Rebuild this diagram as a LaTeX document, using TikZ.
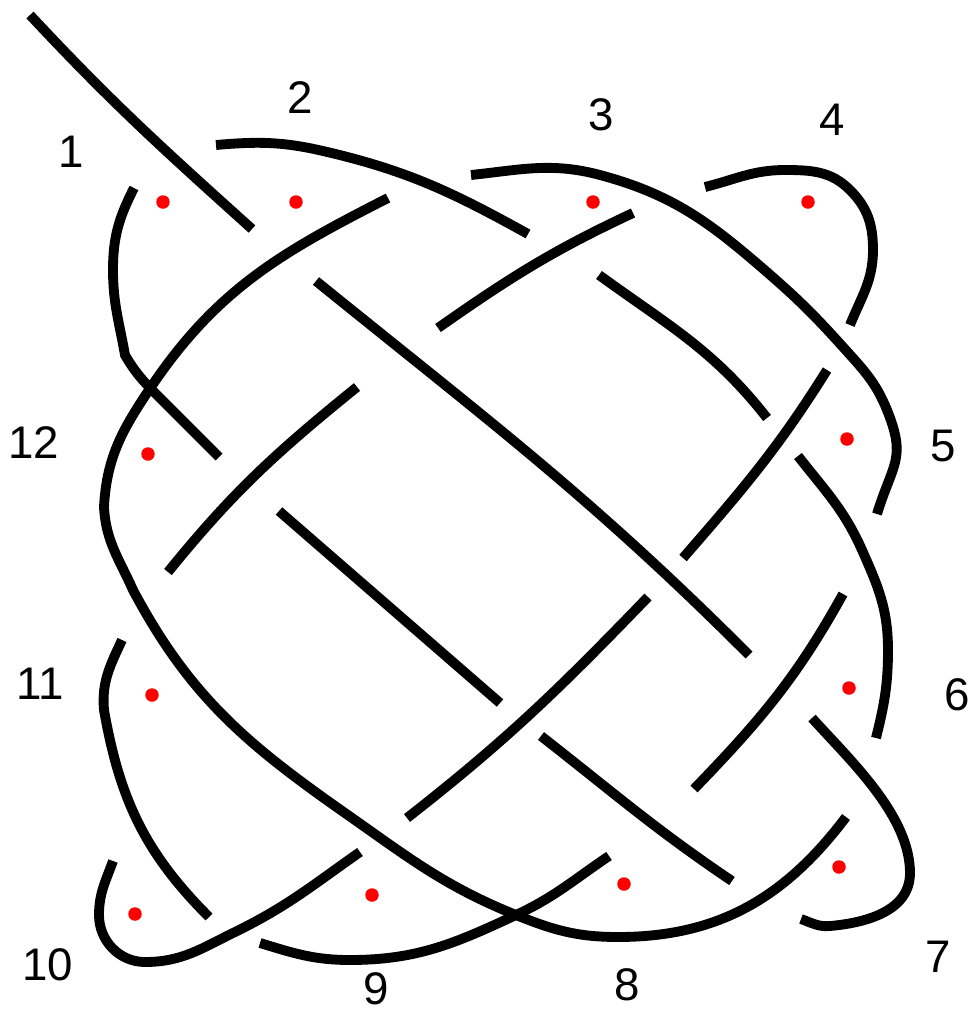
\documentclass[tikz,border=0pt]{standalone}
\usepackage{fontspec}
\setmainfont{Liberation Sans}
\usetikzlibrary{positioning,calc}

\begin{document}
\begin{tikzpicture}[
    x=0.02cm, y=-0.02cm,
    strand/.style={line width=5.6pt, black},
    reddot/.style={circle, fill=red, minimum size=0.27cm, inner sep=0pt},
    num/.style={font=\fontsize{26}{26}\selectfont, inner sep=0pt}
]
    \useasboundingbox (0,0) rectangle (973,1012);
    % strands of the knot
    \draw[strand] (30,15) to[out=-47,in=138] (252,229);
    \draw[strand] (216,145) to[out=5,in=167] (323,151) to[out=-13,in=151] (528,234);
    \draw[strand] (471,175) to[out=6,in=165] (600,175) to[out=-15,in=139] (768,273) to[out=-41,in=132] (843,347) to[out=-48,in=112] (887,410) to[out=-68,in=73,looseness=1.3] (877,514);
    \draw[strand] (705,187) to[out=14,in=180] (785,170) to[out=0,in=135] (850,190) to[out=-45,in=90] (873,250) to[out=270,in=68] (850,325);
    \draw[strand] (134,188) to[out=243,in=90] (113,270) to[out=270,in=100] (125,355) to[out=-60,in=135] (160,398) to[out=-45,in=135] (219,457);
    \draw[strand] (388,198) to[out=207,in=56] (151,387) to[out=236,in=87] (104,507) to[out=273,in=114] (133,590) to[out=-62,in=145] (345,813) to[out=-35,in=158] (516,915) to[out=-22,in=180] (618,937) to[out=0,in=233] (846,817);
    \draw[strand] (316,281) to[out=-39,in=135] (749,655);
    \draw[strand] (633,213) to[out=205,in=35] (438,328);
    \draw[strand] (599,275) to[out=-36,in=128] (767,418);
    \draw[strand] (357,387) to[out=219,in=51] (168,572);
    \draw[strand] (827,370) to[out=238,in=49] (683,558);
    \draw[strand] (798,456) to[out=-52,in=114] (862,550) to[out=-66,in=90] (888,650) to[out=270,in=76] (876,738);
    \draw[strand] (279,511) -- (500,703);
    \draw[strand] (648,597) to[out=226,in=38] (407,818);
    \draw[strand] (843,594) to[out=241,in=46] (694,789);
    \draw[strand] (541,736) to[out=-38,in=146] (732,881);
    \draw[strand] (812,718) to[out=-48,in=90,looseness=0.8] (910,873) to[out=270,in=5] (830,926) to[out=185,in=-20] (801,919);
    \draw[strand] (122,640) to[out=245,in=95] (104,710) to[out=-80,in=135] (209,917);
    \draw[strand] (113,861) to[out=250,in=90] (99,915) to[out=270,in=180] (145,962) to[out=0,in=206] (235,932) to[out=26,in=215] (360,852);
    \draw[strand] (260,943) to[out=-17,in=180] (350,960) to[out=0,in=205] (516,915) to[out=25,in=214] (609,856);
    % red dots
    \foreach \px/\py [count=\i] in {163/202, 296/202, 593/202, 808/202, 847/439, 849/688, 839/867, 624/884, 372/895, 135/914, 152/695, 148/454}
        \node[reddot] (dot\i) at (\px,\py) {};
    % region numbers
    \foreach \px/\py [count=\i] in {71/152, 300/98, 601/115, 832/120, 943/446, 957/695, 938/957, 627/985, 376/989, 48/965, 40/684, 34/443}
        \node[num] (lab\i) at (\px,\py) {\i};
\end{tikzpicture}
\end{document}
